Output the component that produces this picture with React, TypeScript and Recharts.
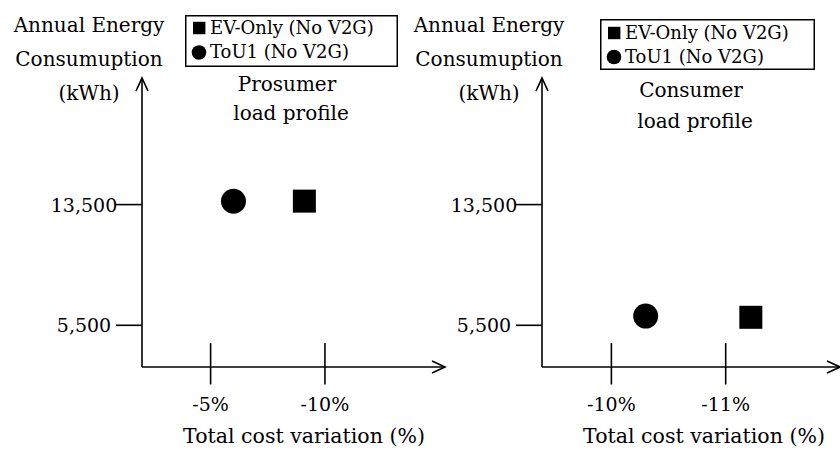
import { ScatterChart, Scatter, XAxis, YAxis, Legend } from "recharts"

const energyTicks = [5500, 13500]
const prosumerCostTicks = [-5, -10]
const consumerCostTicks = [-10, -11]

const prosumerEvOnly = [{ cost: -9.1, energy: 13730 }]
const prosumerTou1 = [{ cost: -6.0, energy: 13720 }]
const consumerEvOnly = [{ cost: -11.22, energy: 6030 }]
const consumerTou1 = [{ cost: -10.3, energy: 6110 }]

const seriesNames = ["EV-Only (No V2G)", "ToU1 (No V2G)"]
const energyTitle = ["Annual Energy", "Consumuption", "(kWh)"]
const costTitle = "Total cost variation (%)"
const prosumerLabel = ["Prosumer", "load profile"]
const consumerLabel = ["Consumer", "load profile"]

const FONT = "'DejaVu Serif', serif"
const SW = 1.6

const fmtEnergy = (v: number) => v.toLocaleString("en-US")

const squareShape = (p: any) => (
  <rect x={p.cx - 11.5} y={p.cy - 11.5} width={23} height={23} fill="#000" />
)
const circleShape = (p: any) => <circle cx={p.cx} cy={p.cy} r={12.5} fill="#000" />

const EnergyTick = ({ x, y, payload }: any) => (
  <g>
    <line x1={x - 26} x2={x} y1={y} y2={y} stroke="#000" strokeWidth={SW} />
    <text x={x - 58} y={y + 7} textAnchor="middle" fontSize={19} fontFamily={FONT} fill="#000">
      {fmtEnergy(payload.value)}
    </text>
  </g>
)

const CostTick = ({ x, y, payload }: any) => (
  <g>
    <line x1={x} x2={x} y1={y - 24} y2={y + 17.5} stroke="#000" strokeWidth={SW} />
    <text x={x} y={y + 44} textAnchor="middle" fontSize={19} fontFamily={FONT} fill="#000">
      {`${payload.value}%`}
    </text>
  </g>
)

const costAxisLabel = (props: any) => {
  const vb = props.viewBox || { x: 142, y: 367, width: 303 }
  const tipX = vb.x + vb.width
  return (
    <g>
      <polyline
        points={`${tipX - 13},${vb.y - 6} ${tipX},${vb.y} ${tipX - 13},${vb.y + 6}`}
        fill="none"
        stroke="#000"
        strokeWidth={SW}
      />
      <text x={vb.x + 162} y={vb.y + 76} textAnchor="middle" fontSize={20.5} fontFamily={FONT} fill="#000">
        {costTitle}
      </text>
    </g>
  )
}

const energyAxisLabel = (panel: string[], dx: number, base: number[]) => (props: any) => {
  const vb = props.viewBox || { x: 0, y: 78, width: 142 }
  const ax = vb.x + vb.width
  const top = vb.y
  return (
    <g>
      <polyline
        points={`${ax - 6},${top + 13} ${ax},${top} ${ax + 6},${top + 13}`}
        fill="none"
        stroke="#000"
        strokeWidth={SW}
      />
      {energyTitle.map((t, i) => (
        <text key={t} x={ax - 53} y={top - 46 + i * 34} textAnchor="middle" fontSize={20} fontFamily={FONT} fill="#000">
          {t}
        </text>
      ))}
      {panel.map((t, i) => (
        <text key={t} x={ax + dx + i * 4} y={base[i]} textAnchor="middle" fontSize={20} fontFamily={FONT} fill="#000">
          {t}
        </text>
      ))}
    </g>
  )
}

const legendBox = (w: number, h: number, rows: number[]) => (props: any) => {
  const payload = props.payload || []
  return (
    <svg width={w} height={h} style={{ display: "block" }}>
      <rect x={0.75} y={0.75} width={w - 1.5} height={h - 1.5} fill="#fff" stroke="#000" strokeWidth={1.5} />
      {payload.map((e: any, i: number) => (
        <g key={e.value}>
          {e.type === "circle" ? (
            <circle cx={14} cy={rows[i]} r={7.3} fill="#000" />
          ) : (
            <rect x={8} y={rows[i] - 6.2} width={12.4} height={12.4} fill="#000" />
          )}
          <text x={25} y={rows[i] + 5.5} fontSize={18} fontFamily={FONT} fill="#000">
            {e.value}
          </text>
        </g>
      ))}
    </svg>
  )
}

interface PanelProps {
  left: number
  width: number
  rightMargin: number
  costTicks: number[]
  costDomain: [number, number]
  evOnly: { cost: number; energy: number }[]
  tou1: { cost: number; energy: number }[]
  panel: string[]
  panelDx: number
  panelBase: number[]
  legend: { left: number; top: number; w: number; h: number; rows: number[] }
}

function Panel(p: PanelProps) {
  return (
    <div style={{ position: "absolute", left: p.left, top: 0 }}>
      <ScatterChart width={p.width} height={450} margin={{ top: 78, right: p.rightMargin, bottom: 0, left: 0 }}>
        <XAxis
          type="number"
          dataKey="cost"
          domain={p.costDomain}
          reversed
          ticks={p.costTicks}
          interval={0}
          height={83}
          tickSize={0}
          tickMargin={0}
          tickLine={false}
          axisLine={{ stroke: "#000", strokeWidth: SW }}
          tick={<CostTick />}
          label={{ content: costAxisLabel }}
        />
        <YAxis
          type="number"
          dataKey="energy"
          domain={[2736, 21891]}
          ticks={energyTicks}
          interval={0}
          width={142}
          tickSize={0}
          tickMargin={0}
          tickLine={false}
          axisLine={{ stroke: "#000", strokeWidth: SW }}
          tick={<EnergyTick />}
          label={{ content: energyAxisLabel(p.panel, p.panelDx, p.panelBase) }}
        />
        <Legend
          layout="horizontal"
          verticalAlign="middle"
          align="center"
          wrapperStyle={{ left: p.legend.left, top: p.legend.top, width: p.legend.w, height: p.legend.h }}
          content={legendBox(p.legend.w, p.legend.h, p.legend.rows)}
        />
        <Scatter
          name={seriesNames[0]}
          data={p.evOnly}
          legendType="square"
          fill="#000"
          shape={squareShape}
          isAnimationActive={false}
        />
        <Scatter
          name={seriesNames[1]}
          data={p.tou1}
          legendType="circle"
          fill="#000"
          shape={circleShape}
          isAnimationActive={false}
        />
      </ScatterChart>
    </div>
  )
}

export default function App() {
  return (
    <div style={{ position: "absolute", left: 0, top: 0, width: 840, height: 450, overflow: "hidden", background: "#fff" }}>
      <Panel
        left={0}
        width={460}
        rightMargin={15}
        costTicks={prosumerCostTicks}
        costDomain={[-15.25, -2]}
        evOnly={prosumerEvOnly}
        tou1={prosumerTou1}
        panel={prosumerLabel}
        panelDx={145}
        panelBase={[91, 120]}
        legend={{ left: 185, top: 15, w: 213, h: 52, rows: [13, 37.5] }}
      />
      <Panel
        left={400}
        width={440}
        rightMargin={0}
        costTicks={consumerCostTicks}
        costDomain={[-12, -9.393]}
        evOnly={consumerEvOnly}
        tou1={consumerTou1}
        panel={consumerLabel}
        panelDx={149}
        panelBase={[97, 128]}
        legend={{ left: 200, top: 19, w: 215, h: 51, rows: [14, 38] }}
      />
    </div>
  )
}
